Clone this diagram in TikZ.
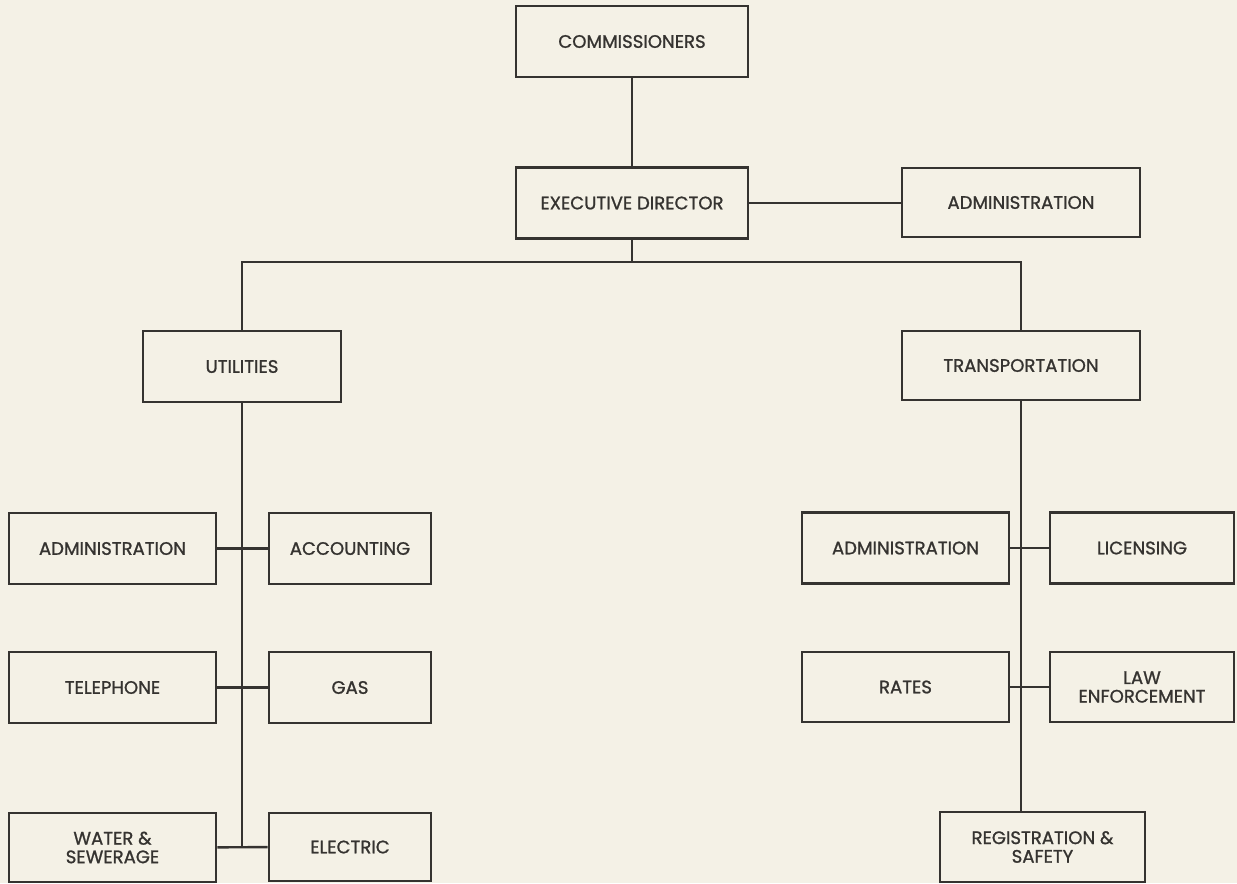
\documentclass[tikz,border=0pt]{standalone}
\usepackage{fontspec}
\setmainfont{Poppins}[FakeBold=1.1]
\usetikzlibrary{positioning}
\definecolor{paper}{HTML}{F4F1E6}
\definecolor{ink}{HTML}{353330}

\begin{document}
\begin{tikzpicture}[
  x=0.02cm, y=-0.02cm,
  font=\fontsize{10.3}{10.6}\selectfont,
  box/.style={draw=ink, line width=1.6pt, text=ink, align=center, inner sep=0pt},
  big/.style={box, minimum width=4.64cm, minimum height=1.42cm},
  mid/.style={box, minimum width=4.14cm, minimum height=1.42cm},
  wide/.style={box, minimum width=4.76cm, minimum height=1.38cm},
  small/.style={box, minimum width=3.24cm, minimum height=1.42cm},
  link/.style={draw=ink, line width=1.4pt}
]
\fill[paper] (0,0) rectangle (1237,883);
\useasboundingbox (0,0) rectangle (1237,883);

% top of the chart
\node[big] (comm) at (632,41.5) {COMMISSIONERS};
\node[big] (exec) at (632,203) {EXECUTIVE DIRECTOR};
\node[wide] (admTop) at (1021,202.5) {ADMINISTRATION};

% divisions
\node[box, minimum width=3.96cm, minimum height=1.42cm] (util) at (242,366.5) {UTILITIES};
\node[wide] (trans) at (1021,365.5) {TRANSPORTATION};

% utilities units
\node[mid] (uAdm) at (112.5,548.5) {ADMINISTRATION};
\node[small] (acct) at (350,548.5) {ACCOUNTING};
\node[mid] (tel) at (112.5,687.5) {TELEPHONE};
\node[small] (gas) at (350,687.5) {GAS};
\node[mid, minimum height=1.38cm] (water) at (112.5,847.5) {WATER \&\\SEWERAGE};
\node[small, minimum height=1.36cm] (elec) at (350,847) {ELECTRIC};

% transportation units
\node[mid] (tAdm) at (905.5,548) {ADMINISTRATION};
\node[box, minimum width=3.68cm, minimum height=1.42cm] (lic) at (1142,548) {LICENSING};
\node[mid, minimum height=1.4cm] (rates) at (905.5,687) {RATES};
\node[box, minimum width=3.68cm, minimum height=1.4cm] (law) at (1142,687) {LAW\\ENFORCEMENT};
\node[box, minimum width=4.1cm, minimum height=1.4cm] (reg) at (1042.5,847) {REGISTRATION \&\\SAFETY};

\coordinate (bus) at (0,262);

\draw[link] (comm) -- (exec);
\draw[link] (exec.east) -- (exec.east -| admTop.west);
\draw[link] (exec.south) -- (exec.south |- bus);
\draw[link] (util.north) |- (bus -| trans.north) -- (trans.north);

\draw[link] (util.south) -- (util.south |- water);
\draw[link] (uAdm) -- (acct);
\draw[link] (tel) -- (gas);
\draw[link] (water) -- (elec);

\draw[link] (trans.south) -- (trans.south |- reg.north);
\draw[link] (tAdm) -- (lic);
\draw[link] (rates) -- (law);

\end{tikzpicture}
\end{document}
